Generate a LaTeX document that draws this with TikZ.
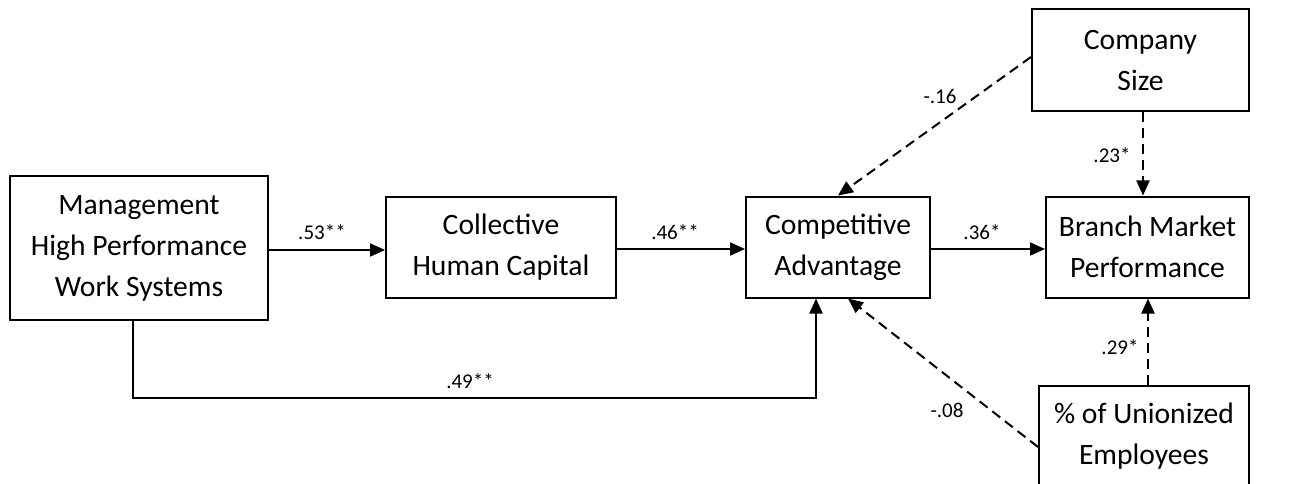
\documentclass[tikz,border=0pt]{standalone}
\usepackage{fontspec}
\setmainfont{Carlito}
\usetikzlibrary{arrows.meta}
\begin{document}
\begin{tikzpicture}[x=1pt,y=-1pt,
  box/.style={draw,line width=2pt,align=center,inner sep=0pt,
    font=\fontsize{29.6}{41}\selectfont},
  lab/.style={font=\fontsize{21}{24}\selectfont,inner sep=0pt},
  arr/.style={line width=2pt,-{Triangle[length=15pt,width=13pt]}},
  dasharr/.style={arr,dash pattern=on 10pt off 6pt}]
\useasboundingbox (0,0) rectangle (1307,484);
\node[box,minimum width=258pt,minimum height=144pt] (mh) at (139,248) {Management\\High Performance\\Work Systems};
\node[box,minimum width=230pt,minimum height=101pt] (chc) at (501,247) {Collective\\Human Capital};
\node[box,minimum width=184pt,minimum height=101pt] (ca) at (838,247) {Competitive\\Advantage};
\node[box,minimum width=203pt,minimum height=101pt] (bmp) at (1147.5,247) {Branch Market\\Performance};
\node[box,minimum width=217pt,minimum height=102pt] (cs) at (1140.5,60) {Company\\Size};
\node[box,minimum width=210pt,minimum height=100pt] (un) at (1144,436) {\% of Unionized\\Employees};
\draw[arr] ([yshift=-2pt]mh.east) -- ([yshift=-2pt]mh.east -| chc.west);
\draw[arr] ([yshift=-2pt]chc.east) -- ([yshift=-2pt]chc.east -| ca.west);
\draw[arr] ([yshift=-2pt]ca.east) -- ([yshift=-2pt]ca.east -| bmp.west);
\draw[arr] ([xshift=-6pt]mh.south) -- ++(0,77) -| ([xshift=-22pt]ca.south);
\draw[dasharr] ([yshift=3pt]cs.west) -- (ca.north);
\draw[dasharr] ([xshift=2.5pt]cs.south) -- ([xshift=2.5pt]cs.south |- bmp.north);
\draw[dasharr] ([xshift=4pt]un.north) -- ([xshift=4pt]un.north |- bmp.south);
\draw[dasharr] ([yshift=-11pt]un.west) -- ([xshift=10pt]ca.south);
\node[lab] (l53) at (322,232) {.53**};
\node[lab] (l46) at (675,232) {.46**};
\node[lab] (l36) at (982,232) {.36*};
\node[lab] (l49) at (470,381) {.49**};
\node[lab] (l16) at (940,96) {-.16};
\node[lab] (l23) at (1112,155) {.23*};
\node[lab] (l29) at (1120,347) {.29*};
\node[lab] (l08) at (947,410) {-.08};
\end{tikzpicture}
\end{document}
